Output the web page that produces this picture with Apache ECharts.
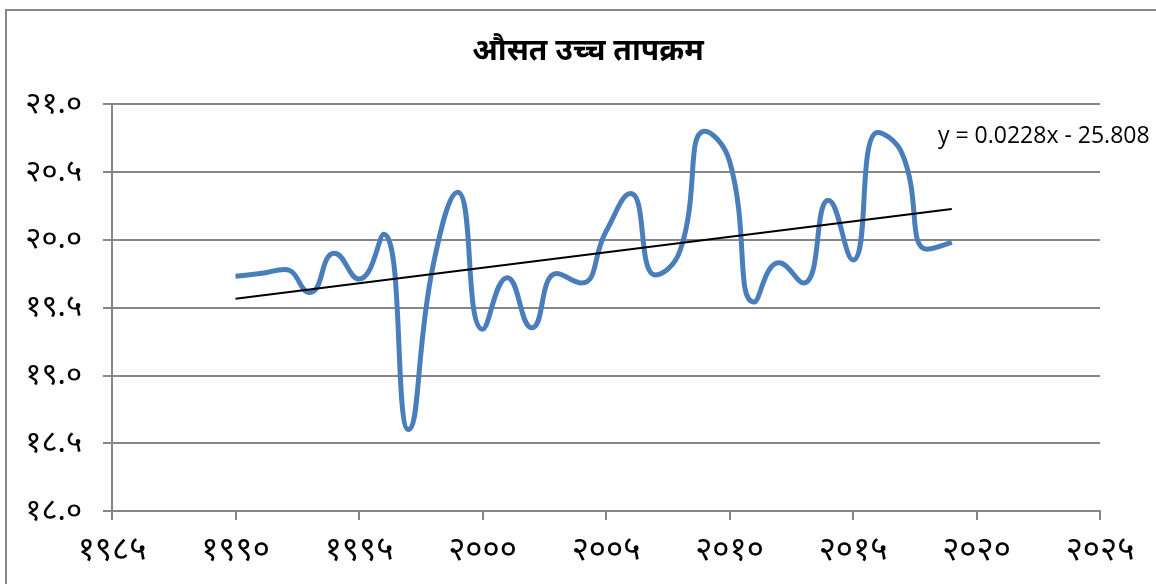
<!DOCTYPE html>
<html><head><meta charset="utf-8">
<script src="https://cdn.jsdelivr.net/npm/echarts@6/dist/echarts.min.js"></script>
<style>html,body{margin:0;padding:0;background:#fff}#c{width:1156px;height:584px}</style>
</head><body><div id="c"></div>
<script>
const titleText = 'औसत उच्च तापक्रम';
const years = [1990,1991,1992,1993,1994,1995,1996,1997,1998,1999,2000,2001,2002,2003,2004,2005,2006,2007,2008,2009,2010,2011,2012,2013,2014,2015,2016,2017,2018,2019];
const temps = [19.73,19.75,19.78,19.61,19.90,19.71,20.04,18.60,19.81,20.35,19.34,19.72,19.35,19.75,19.68,20.06,20.34,19.74,19.92,20.80,20.58,19.54,19.83,19.68,20.29,19.85,20.79,20.63,19.93,19.98];
const trendSlope = 0.0228;
const trendIntercept = -25.808;
const trendLabel = 'y = 0.0228x - 25.808';
const xTicks = [1985,1990,1995,2000,2005,2010,2015,2020,2025];
const yTicks = [18.0,18.5,19.0,19.5,20.0,20.5,21.0];

const devDigits = ['०','१','२','३','४','५','६','७','८','९'];
function toDev(s){return String(s).replace(/[0-9]/g,d=>devDigits[+d]);}

const lineData = years.map((y,i)=>[y,temps[i]]);
const tStart = years[0], tEnd = years[years.length-1];
const trendData = [[tStart, trendSlope*tStart+trendIntercept],[tEnd, trendSlope*tEnd+trendIntercept]];

const chart = echarts.init(document.getElementById('c'));
const axisGrey = '#868686';
const devFont = '"Noto Sans","DejaVu Sans",sans-serif';
chart.setOption({
  animation:false,
  backgroundColor:'#fff',
  title:{text:titleText,left:583,top:31,textAlign:'center',
    textStyle:{fontSize:30,fontWeight:'bold',color:'#000',fontFamily:devFont}},
  grid:{left:112,right:56,top:104,bottom:73,containLabel:false},
  xAxis:{type:'value',min:xTicks[0],max:xTicks[xTicks.length-1],interval:5,
    axisLine:{show:true,lineStyle:{color:axisGrey,width:2}},
    axisTick:{show:true,length:9,lineStyle:{color:axisGrey,width:2}},
    splitLine:{show:false},
    axisLabel:{formatter:v=>toDev(v),fontSize:33,color:'#000',margin:23,fontFamily:devFont}},
  yAxis:{type:'value',min:yTicks[0],max:yTicks[yTicks.length-1],interval:0.5,
    axisLine:{show:true,lineStyle:{color:axisGrey,width:2}},
    axisTick:{show:true,length:9,lineStyle:{color:axisGrey,width:2}},
    splitLine:{show:true,lineStyle:{color:axisGrey,width:2}},
    axisLabel:{formatter:v=>toDev(v.toFixed(1)),fontSize:31,color:'#000',margin:30,fontFamily:devFont}},
  series:[
    {type:'line',data:lineData,smooth:0.5,symbol:'none',
      lineStyle:{color:'#4a7ebb',width:5},z:2},
    {type:'line',data:trendData,symbol:'none',
      lineStyle:{color:'#000',width:2},z:3}
  ],
  graphic:[
    {type:'rect',shape:{x:6,y:10,width:1200,height:620},style:{fill:'none',stroke:'#888',lineWidth:2},z:-1},
    {type:'text',left:938,top:125,style:{text:trendLabel,fontSize:23,fill:'#000',fontFamily:'"Open Sans",Lato,sans-serif'}}
  ]
});
</script></body></html>
